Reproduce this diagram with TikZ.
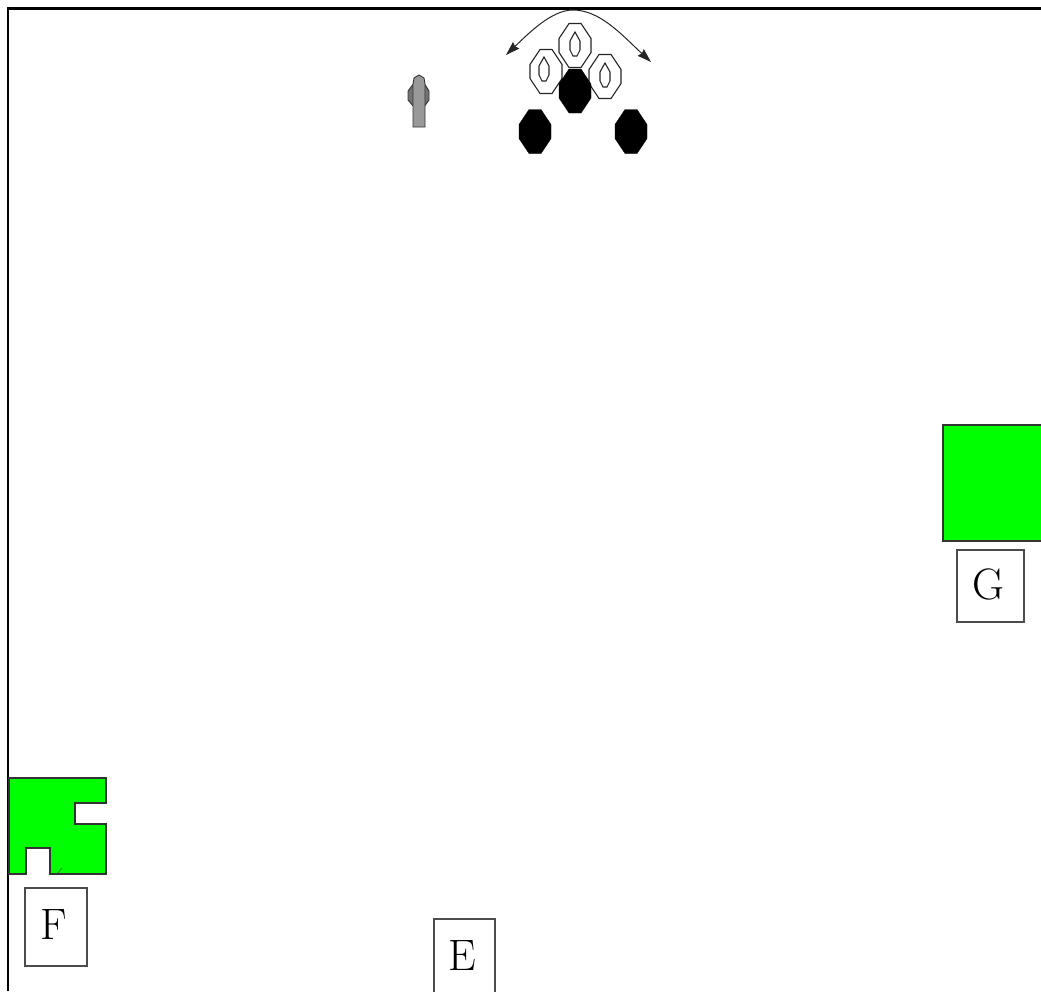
\documentclass[tikz,border=0pt]{standalone}
\usetikzlibrary{arrows.meta}
\newcommand{\octa}[3][]{\draw[#1] (#2,#3) ++(-6,-22) -- ++(12,0) -- ++(10,15) -- ++(0,14) -- ++(-10,15) -- ++(-12,0) -- ++(-10,-15) -- ++(0,-14) -- cycle;}
\newcommand{\drop}[2]{\draw[drop] (#1,#2) ++(0,-12) -- ++(5,9) -- ++(0,9) -- ++(-3,6) -- ++(-4,0) -- ++(-3,-6) -- ++(0,-9) -- cycle;}
\newcommand{\boxletter}[1]{\hspace{-4pt}\raisebox{4pt}{#1}}
\begin{document}
\begin{tikzpicture}[x=1pt, y=-1pt,
		frameline/.style={line width=2.2pt, black},
		greenarea/.style={draw=black!80, line width=1.3pt, fill=green},
		letterbox/.style={draw=black!70, line width=1.3pt, fill=white, inner sep=0pt, font=\fontsize{44}{48}\selectfont},
		whitecone/.style={draw=black!85, line width=1.1pt, fill=white},
		blackcone/.style={draw=black, fill=black},
		drop/.style={draw=black!85, line width=1.1pt},
		turn/.style={draw=black!85, line width=1pt, {Stealth[length=14pt, width=9pt, inset=1.5pt]}-{Stealth[length=14pt, width=9pt, inset=1.5pt]}}]
	\useasboundingbox (0,0) rectangle (1041,991);
	% frame
	\draw[frameline] (1041,8.5) -- (8,8.5) -- (8,991);
	% green areas
	\draw[greenarea] (1045,425) -- (943,425) -- (943,541) -- (1045,541);
	\draw[greenarea] (9,778) -- (106,778) -- (106,803) -- (75,803) -- (75,824) -- (106,824) -- (106,874) -- (50,874) -- (50,848) -- (26,848) -- (26,874) -- (9,874) -- cycle;
	\draw[black!70, line width=0.6pt] (57,874) -- (62,868);
	% letter boxes
	\node[letterbox, minimum width=62pt, minimum height=78pt] (boxF) at (56,927) {\boxletter{F}};
	\node[letterbox, minimum width=61pt, minimum height=78pt] (boxE) at (464.5,958) {\boxletter{E}};
	\node[letterbox, minimum width=67pt, minimum height=72pt] (boxG) at (990.5,586) {\boxletter{G}};
	% white cones
	\octa[whitecone]{575}{45.5}
	\drop{575}{44}
	\octa[whitecone]{546}{71.5}
	\drop{544}{69}
	\octa[whitecone]{605}{76.5}
	\drop{605}{75}
	% black cones
	\octa[blackcone]{575}{91}
	\octa[blackcone]{535}{131.5}
	\octa[blackcone]{631}{131.5}
	% player
	\draw[black!80, fill=black!55, line width=0.9pt] (414,83) -- (424,83) -- (429,91) -- (429,100) -- (424,107) -- (414,107) -- (408,100) -- (408,91) -- cycle;
	\draw[black!80, fill=black!40, line width=0.9pt] (419,75) -- (424,78) -- (425,84) -- (425,127) -- (413,127) -- (413,84) -- (414,78) -- cycle;
	% turning arrows
	\coordinate (turnL) at (506,55);
	\coordinate (turnR) at (651,62);
	\draw[turn] (turnL) .. controls (530,32) and (552,10) .. (573,10) .. controls (600,10) and (622,35) .. (turnR);
\end{tikzpicture}
\end{document}
